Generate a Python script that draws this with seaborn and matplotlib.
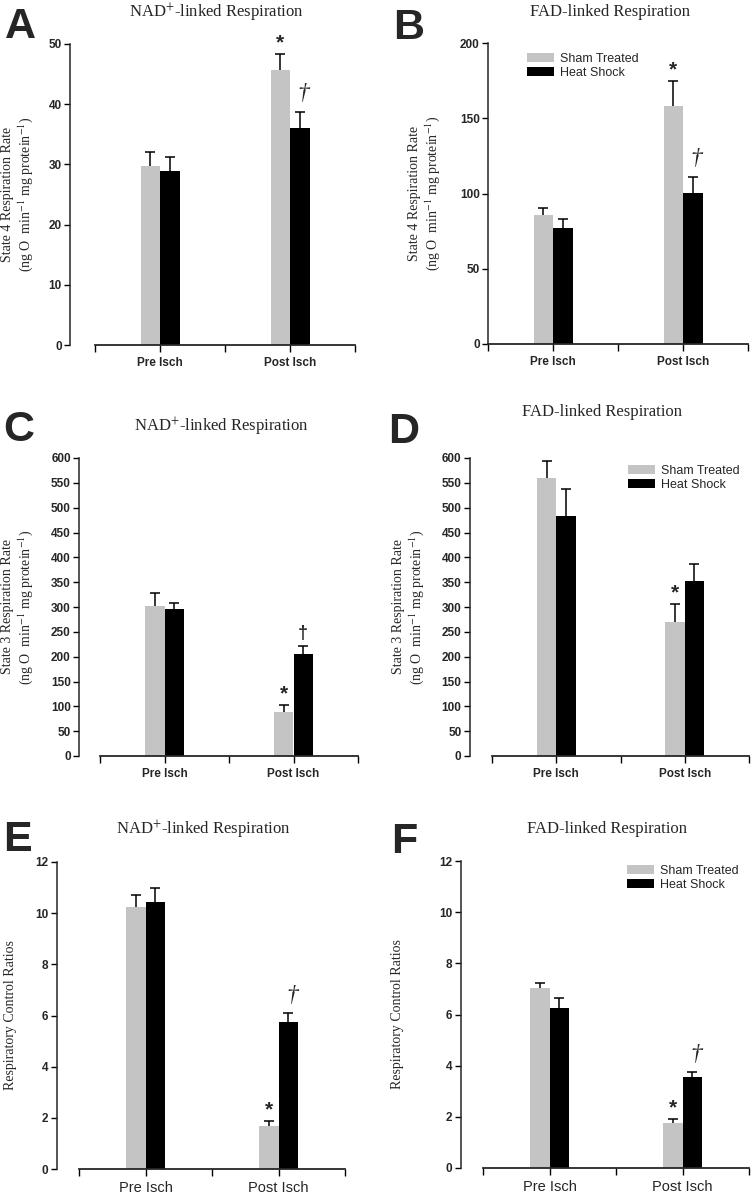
import numpy as np
import pandas as pd
import matplotlib
matplotlib.use("Agg")
import matplotlib.pyplot as plt
import seaborn as sns

# ====================================
# DATA
# ====================================

phases = ["Pre Isch", "Post Isch"]
groups = ["Sham Treated", "Heat Shock"]

# A - state 4, NAD+-linked
a_sham = [29.7, 45.6]
a_sham_err = [2.4, 2.7]
a_hs = [28.9, 36.0]
a_hs_err = [2.4, 2.7]

# B - state 4, FAD-linked
b_sham = [85.5, 158.4]
b_sham_err = [4.6, 16.1]
b_hs = [76.9, 100.6]
b_hs_err = [6.1, 10.6]

# C - state 3, NAD+-linked
c_sham = [302, 89]
c_sham_err = [26, 14]
c_hs = [295, 206]
c_hs_err = [14, 15]

# D - state 3, FAD-linked
d_sham = [560, 270]
d_sham_err = [33, 37]
d_hs = [483, 352]
d_hs_err = [55, 34]

# E - RCR, NAD+-linked
e_sham = [10.24, 1.70]
e_sham_err = [0.46, 0.18]
e_hs = [10.43, 5.75]
e_hs_err = [0.54, 0.34]

# F - RCR, FAD-linked
f_sham = [7.02, 1.76]
f_sham_err = [0.22, 0.14]
f_hs = [6.26, 3.56]
f_hs_err = [0.39, 0.18]

# significance marks per bar ("†i" = italic dagger)
a_marks = [["", "*"], ["", "†i"]]
b_marks = [["", "*"], ["", "†i"]]
c_marks = [["", "*"], ["", "†"]]
d_marks = [["", "*"], ["", ""]]
e_marks = [["", "*"], ["", "†i"]]
f_marks = [["", "*"], ["", "†i"]]

nad_title = "NAD$^{+}$-linked Respiration"
fad_title = "FAD-linked Respiration"
state4_label = "State 4 Respiration Rate\n(ng O  min$^{-1}$ mg protein$^{-1}$)"
state3_label = "State 3 Respiration Rate\n(ng O  min$^{-1}$ mg protein$^{-1}$)"
rcr_label = "Respiratory Control Ratios"

GRAY = "#c4c4c4"

# ====================================
# STYLE
# ====================================

sns.set_style("ticks")
plt.rcParams["font.family"] = ["Liberation Sans", "DejaVu Sans"]
plt.rcParams["mathtext.fontset"] = "stix"

W, H = 752, 1200
fig = plt.figure(figsize=(W / 100, H / 100), dpi=100)

panels = [
    dict(letter="A", title=nad_title, ylabel=state4_label, sham=a_sham, sham_err=a_sham_err,
         hs=a_hs, hs_err=a_hs_err, marks=a_marks, yticks=np.arange(0, 51, 10),
         rect=(95, 44, 355, 345), off=18, ylab_x=-0.231, title_xy=(216, 13), letter_xy=(5, 7),
         legend=None, xfs=8.5, xbold=True),
    dict(letter="B", title=fad_title, ylabel=state4_label, sham=b_sham, sham_err=b_sham_err,
         hs=b_hs, hs_err=b_hs_err, marks=b_marks, yticks=np.arange(0, 201, 50),
         rect=(488, 43, 748, 344), off=0, ylab_x=-0.177, title_xy=(610, 12), letter_xy=(393, 8),
         legend=(0.15, 0.967), xfs=8.5, xbold=True),
    dict(letter="C", title=nad_title, ylabel=state3_label, sham=c_sham, sham_err=c_sham_err,
         hs=c_hs, hs_err=c_hs_err, marks=c_marks, yticks=np.arange(0, 601, 50),
         rect=(100, 458, 358, 756), off=15, ylab_x=-0.252, title_xy=(221, 427), letter_xy=(3, 410),
         legend=None, xfs=8.5, xbold=True),
    dict(letter="D", title=fad_title, ylabel=state3_label, sham=d_sham, sham_err=d_sham_err,
         hs=d_hs, hs_err=d_hs_err, marks=d_marks, yticks=np.arange(0, 601, 50),
         rect=(492, 458, 749, 756), off=16, ylab_x=-0.257, title_xy=(602, 412), letter_xy=(388, 412),
         legend=(0.529, 0.977), xfs=8.5, xbold=True),
    dict(letter="E", title=nad_title, ylabel=rcr_label, sham=e_sham, sham_err=e_sham_err,
         hs=e_hs, hs_err=e_hs_err, marks=e_marks, yticks=np.arange(0, 13, 2),
         rect=(79, 862, 345, 1169), off=16, ylab_x=-0.233, title_xy=(203, 830), letter_xy=(3, 820),
         legend=None, xfs=10.5, xbold=False),
    dict(letter="F", title=fad_title, ylabel=rcr_label, sham=f_sham, sham_err=f_sham_err,
         hs=f_hs, hs_err=f_hs_err, marks=f_marks, yticks=np.arange(0, 13, 2),
         rect=(483, 861, 749, 1168), off=16, ylab_x=-0.297, title_xy=(607, 829), letter_xy=(391, 822),
         legend=(0.541, 0.987), xfs=10.5, xbold=False),
]

# ====================================
# DRAW
# ====================================

for p in panels:
    x0, y0, x1, y1 = p["rect"]
    ax = fig.add_axes([x0 / W, 1 - y1 / H, (x1 - x0) / W, (y1 - y0) / H])

    df = pd.DataFrame({
        "phase": phases * 2,
        "group": [groups[0]] * 2 + [groups[1]] * 2,
        "rate": list(p["sham"]) + list(p["hs"]),
    })

    sns.barplot(data=df, x="phase", y="rate", hue="group", order=phases, hue_order=groups,
                palette=[GRAY, "black"], saturation=1, width=0.3, errorbar=None,
                linewidth=0, legend=p["legend"] is not None, ax=ax)

    for cont, err, marks in zip(ax.containers, [p["sham_err"], p["hs_err"]], p["marks"]):
        xs = [b.get_x() + b.get_width() / 2 for b in cont]
        ys = np.array([b.get_height() for b in cont])
        err = np.array(err)
        _, caps, _ = ax.errorbar(xs, ys, yerr=[np.zeros_like(err), err], fmt="none",
                                 ecolor="black", elinewidth=1.1, capsize=3.5, capthick=1.1)
        caps[0].set_visible(False)
        for x, top, m in zip(xs, ys + err, marks):
            if m == "*":
                ax.annotate("*", (x, top), xytext=(0, 8), textcoords="offset points",
                            ha="center", va="center", fontsize=15, fontweight="bold",
                            annotation_clip=False)
            elif m == "†i":
                ax.annotate("†", (x + 0.03, top), xytext=(0, 13), textcoords="offset points",
                            ha="center", va="center", fontsize=17, fontstyle="italic",
                            family="Liberation Serif", annotation_clip=False)
            elif m == "†":
                ax.annotate("†", (x, top), xytext=(0, 9), textcoords="offset points",
                            ha="center", va="center", fontsize=13, fontweight="bold",
                            annotation_clip=False)

    sns.despine(ax=ax)
    ax.spines["left"].set_position(("outward", p["off"]))
    ax.spines["left"].set_linewidth(1.1)
    ax.spines["bottom"].set_linewidth(1.3)

    ax.set_xlim(-0.5, 1.5)
    ax.set_xticks([-0.5, 0.5, 1.5], minor=True)
    ax.set_ylim(p["yticks"][0], p["yticks"][-1])
    ax.set_yticks(p["yticks"])
    ax.tick_params(axis="x", which="both", length=5, width=1, color="black")
    ax.tick_params(axis="y", length=4, width=1, color="black", pad=2)
    ax.set_xlabel("")

    for lab in ax.get_yticklabels():
        lab.set_fontsize(8.5)
        lab.set_fontweight("bold")
    for lab in ax.get_xticklabels():
        lab.set_fontsize(p["xfs"])
        lab.set_fontweight("bold" if p["xbold"] else "normal")

    ax.set_ylabel(p["ylabel"], family="Liberation Serif", fontsize=10, linespacing=1.15)
    ax.yaxis.set_label_coords(p["ylab_x"], 0.5)

    if p["legend"] is not None:
        sns.move_legend(ax, "upper left", bbox_to_anchor=p["legend"], frameon=False, title=None,
                        fontsize=9, handlelength=2.15, handleheight=0.7, handletextpad=0.5,
                        labelspacing=0.15, borderpad=0, borderaxespad=0)

    tx, ty = p["title_xy"]
    fig.text(tx / W, 1 - ty / H, p["title"], family="Liberation Serif", fontsize=12,
             ha="center", va="center")
    lx, ly = p["letter_xy"]
    fig.text(lx / W, 1 - ly / H, p["letter"], fontsize=31, fontweight="bold",
             ha="left", va="top")

plt.savefig("out.png", dpi=100)
